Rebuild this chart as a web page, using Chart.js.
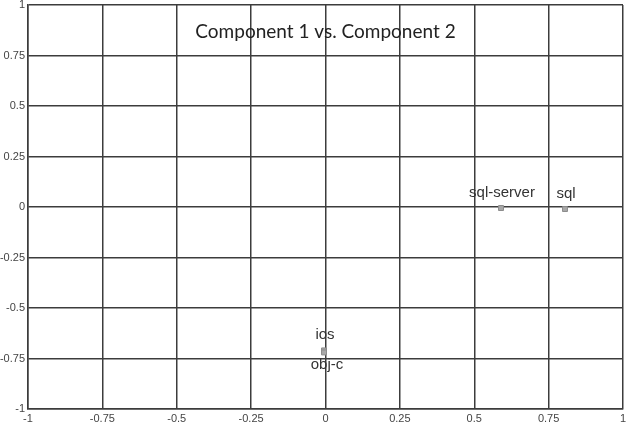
<!DOCTYPE html>
<html>
<head>
<meta charset="utf-8">
<script src="https://cdn.jsdelivr.net/npm/chart.js@4/dist/chart.umd.min.js"></script>
<style>
html,body{margin:0;padding:0;background:#fff;}
#wrap{width:628px;height:428px;position:relative;}
</style>
</head>
<body>
<div id="wrap"><canvas id="c" width="628" height="428"></canvas></div>
<script>
const chartTitle = "Component 1 vs. Component 2";
const terms = ["sql-server", "sql", "ios", "obj-c"];
const comp1 = [0.59, 0.805, -0.005, -0.005];
const comp2 = [-0.005, -0.01, -0.71, -0.72];
const labelSide = ["above", "above", "above", "below"];
const axisTicks = [-1, -0.75, -0.5, -0.25, 0, 0.25, 0.5, 0.75, 1];

const points = terms.map((t, i) => ({ x: comp1[i], y: comp2[i], label: t, side: labelSide[i] }));

const labelPlugin = {
  id: 'termLabels',
  afterDatasetsDraw(chart) {
    const ctx = chart.ctx;
    const meta = chart.getDatasetMeta(0);
    ctx.save();
    ctx.font = '15px "Liberation Sans", Arial, sans-serif';
    ctx.fillStyle = '#333';
    ctx.textAlign = 'center';
    meta.data.forEach((el, i) => {
      const p = points[i];
      if (p.side === 'above') {
        ctx.textBaseline = 'bottom';
        ctx.fillText(p.label, el.x + 1, el.y - 8);
      } else {
        ctx.textBaseline = 'top';
        ctx.fillText(p.label, el.x + 3, el.y + 5);
      }
    });
    ctx.restore();
  }
};

const titlePlugin = {
  id: 'innerTitle',
  afterDraw(chart) {
    const ctx = chart.ctx;
    const a = chart.chartArea;
    ctx.save();
    ctx.font = '19px Lato, "Open Sans", sans-serif';
    ctx.fillStyle = '#222';
    ctx.textAlign = 'center';
    ctx.textBaseline = 'middle';
    ctx.fillText(chartTitle, (a.left + a.right) / 2, a.top + 27);
    ctx.restore();
  }
};

const gridOpts = { color: '#3c3c3c', lineWidth: 1.5, drawTicks: false };
const tickFont = { family: '"Liberation Sans", Arial, sans-serif', size: 11 };
const fmt = v => String(v);

new Chart(document.getElementById('c'), {
  type: 'scatter',
  data: {
    datasets: [{
      data: points,
      pointStyle: 'rect',
      pointRadius: 3.5,
      pointBackgroundColor: '#a8a8a8',
      pointBorderColor: '#8c8c8c',
      pointBorderWidth: 1
    }]
  },
  options: {
    responsive: false,
    animation: false,
    layout: { padding: { top: 0, right: 0, left: 0, bottom: 0 } },
    plugins: { legend: { display: false }, tooltip: { enabled: false }, title: { display: false } },
    scales: {
      x: {
        type: 'linear', min: -1, max: 1,
        afterBuildTicks(s) { s.ticks = axisTicks.map(v => ({ value: v })); },
        afterFit(s) { s.height = 19; s.paddingRight = 4; s.paddingLeft = 0; },
        grid: gridOpts,
        border: { color: '#3c3c3c', width: 1.5 },
        ticks: { color: '#444', font: tickFont, padding: 3, maxRotation: 0, autoSkip: false, callback: fmt }
      },
      y: {
        type: 'linear', min: -1, max: 1,
        afterBuildTicks(s) { s.ticks = axisTicks.map(v => ({ value: v })); },
        afterFit(s) { s.width = 28; s.paddingTop = 5; s.paddingBottom = 0; },
        grid: gridOpts,
        border: { color: '#3c3c3c', width: 1.5 },
        ticks: { color: '#444', font: tickFont, padding: 3, autoSkip: false, callback: fmt }
      }
    }
  },
  plugins: [labelPlugin, titlePlugin]
});
</script>
</body>
</html>
